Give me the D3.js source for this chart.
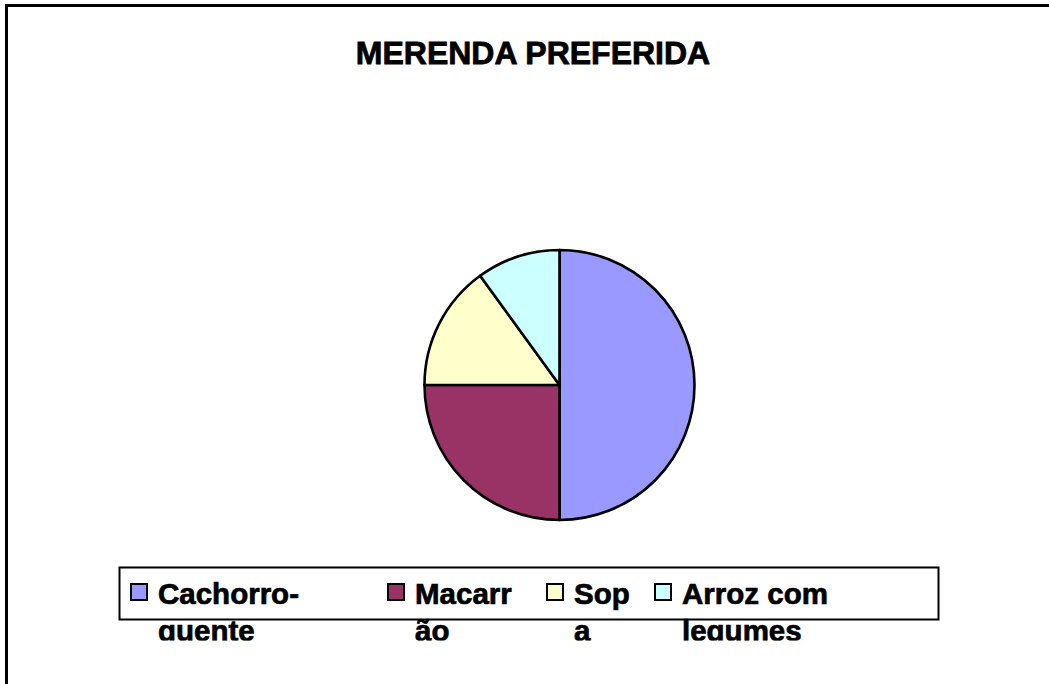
<!DOCTYPE html>
<html>
<head>
<meta charset="utf-8">
<script src="https://cdn.jsdelivr.net/npm/d3@7"></script>
<style>
  body { margin: 0; background: #fff; }
  svg { display: block; }
</style>
</head>
<body>
<svg id="chart"></svg>
<script>
// Données du graphique
const categories = ["Cachorro-quente", "Macarrão", "Sopa", "Arroz com legumes"];
const values = [50, 25, 15, 10];
const colors = ["#9999FF", "#993366", "#FFFFCC", "#CCFFFF"];
// Découpage des libellés de la légende (tel qu'affiché)
const legendLines = [["Cachorro-", "quente"], ["Macarr", "ão"], ["Sop", "a"], ["Arroz com", "legumes"]];
const legendX = [130, 387, 546, 654];

function createPieChart() {
    const width = 1049;
    const height = 684;

    const svg = d3.select('#chart')
        .attr('width', width)
        .attr('height', height);

    // Cadre extérieur
    svg.append('rect')
        .attr('x', 6.5)
        .attr('y', 5.5)
        .attr('width', width + 20)
        .attr('height', height + 20)
        .attr('fill', '#fff')
        .attr('stroke', '#000')
        .attr('stroke-width', 3);

    // Titre
    svg.append('text')
        .attr('x', 533)
        .attr('y', 64)
        .attr('text-anchor', 'middle')
        .style('font-family', '"Liberation Sans", Arial, sans-serif')
        .style('font-weight', 'bold')
        .style('font-size', '32px')
        .style('stroke', '#000')
        .style('stroke-width', 0.8)
        .text('MERENDA PREFERIDA');

    // Camembert
    const radius = 135;
    const g = svg.append('g')
        .attr('transform', 'translate(559.5,385)');

    const pie = d3.pie().sort(null).value(d => d);
    const arc = d3.arc().innerRadius(0).outerRadius(radius);

    g.selectAll('path')
        .data(pie(values))
        .enter()
        .append('path')
        .attr('d', arc)
        .attr('fill', (d, i) => colors[i])
        .attr('stroke', '#000')
        .attr('stroke-width', 2.6)
        .attr('stroke-linejoin', 'round');

    // Légende
    svg.append('clipPath')
        .attr('id', 'legend-clip')
        .append('rect')
        .attr('x', 0).attr('y', 0)
        .attr('width', width).attr('height', 640.5);

    svg.append('rect')
        .attr('x', 119.5)
        .attr('y', 567.5)
        .attr('width', 819)
        .attr('height', 52)
        .attr('fill', '#fff')
        .attr('stroke', '#000')
        .attr('stroke-width', 2);

    const items = svg.append('g')
        .attr('clip-path', 'url(#legend-clip)')
        .selectAll('g')
        .data(categories)
        .enter()
        .append('g')
        .attr('transform', (d, i) => `translate(${legendX[i]},0)`);

    items.append('rect')
        .attr('x', 1)
        .attr('y', 584)
        .attr('width', 16)
        .attr('height', 16)
        .attr('fill', (d, i) => colors[i])
        .attr('stroke', '#000')
        .attr('stroke-width', 2);

    items.each(function (d, i) {
        const t = d3.select(this).append('text')
            .attr('x', 28)
            .attr('y', 604)
            .style('font-family', '"Liberation Sans", Arial, sans-serif')
            .style('font-weight', 'bold')
            .style('font-size', '29.5px')
            .style('stroke', '#000')
            .style('stroke-width', 0.7);
        legendLines[i].forEach(function (line, k) {
            t.append('tspan')
                .attr('x', 28)
                .attr('y', 604 + k * 37)
                .text(line);
        });
    });
}

createPieChart();
</script>
</body>
</html>
